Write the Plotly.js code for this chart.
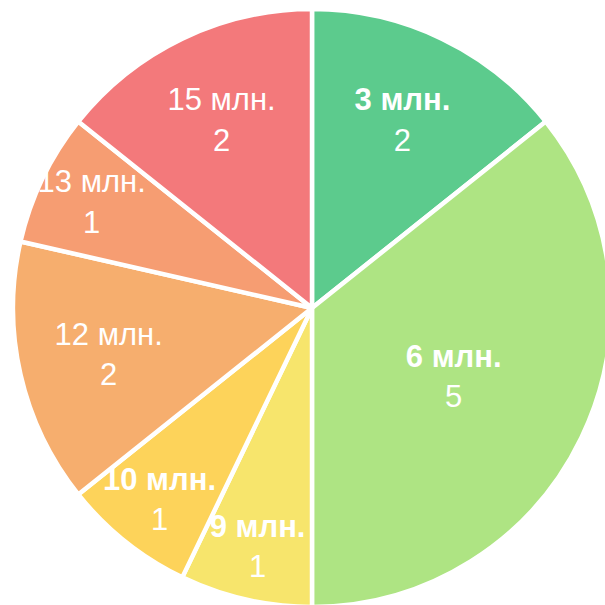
<!DOCTYPE html>
<html>
<head>
<meta charset="utf-8">
<script src="https://cdn.plot.ly/plotly-3.0.1.min.js"></script>
<style>
html, body { margin: 0; padding: 0; width: 605px; height: 605px; overflow: hidden; background: #fff; }
#chart { position: absolute; left: 13px; top: 9px; width: 598px; height: 598px; }
</style>
</head>
<body>
<div id="chart"></div>
<script>
const labels = ["3 млн.", "6 млн.", "9 млн.", "10 млн.", "12 млн.", "13 млн.", "15 млн."];
const counts = [2, 5, 1, 1, 2, 1, 2];
const boldLabel = [true, true, true, true, false, false, false];
const colors = ["#5ccb8d", "#aee483", "#f7e56c", "#fdd35a", "#f6ae6e", "#f69d72", "#f3797b"];

const texts = labels.map((l, i) => (boldLabel[i] ? "<b>" + l + "</b>" : l) + "<br>" + counts[i]);

Plotly.newPlot("chart", [{
  type: "pie",
  labels: labels,
  values: counts,
  text: texts,
  textinfo: "text",
  textposition: "inside",
  insidetextorientation: "horizontal",
  sort: false,
  direction: "clockwise",
  rotation: 0,
  marker: { colors: colors, line: { color: "#ffffff", width: 4.5 } },
  textfont: { family: "Liberation Sans, Arial, sans-serif", size: 31, color: "#ffffff" },
  hoverinfo: "none"
}], {
  width: 598, height: 598,
  margin: { l: 0, r: 0, t: 0, b: 0 },
  showlegend: false,
  uniformtext: { mode: "show", minsize: 31 },
  paper_bgcolor: "rgba(0,0,0,0)"
}, { displayModeBar: false, staticPlot: true });
</script>
</body>
</html>
